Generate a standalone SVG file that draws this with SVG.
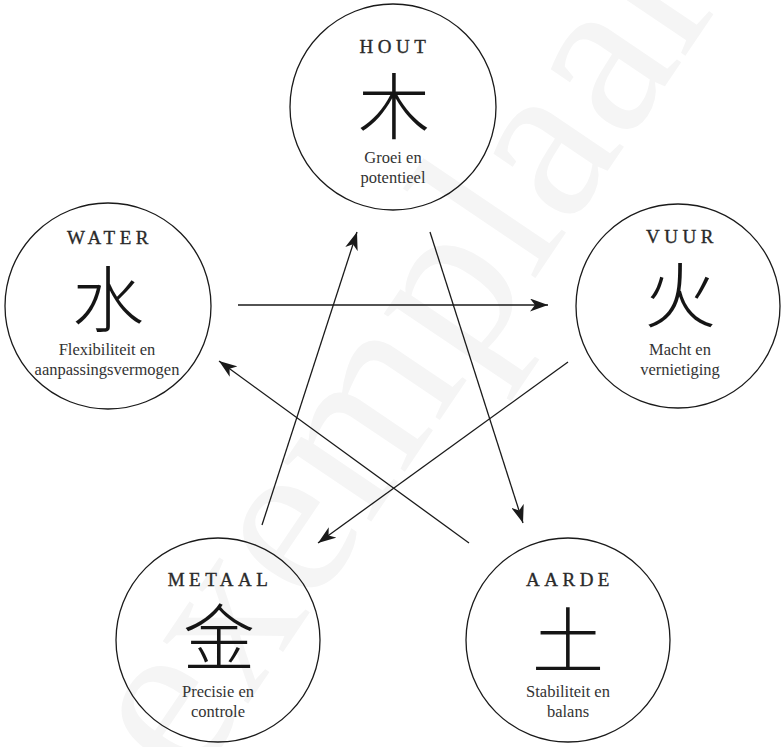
<svg xmlns="http://www.w3.org/2000/svg" width="782" height="747" viewBox="0 0 782 747">
<defs>
<style>
.bg{fill:#ffffff}
.wm{font-family:"Liberation Serif",serif;font-size:230px;fill:#f5f5f5}
.ring{fill:none;stroke:#1a1a1a;stroke-width:1.3}
.title{font-family:"Liberation Serif",serif;font-size:19px;letter-spacing:4.5px;fill:#2a2a2a;stroke:#2a2a2a;stroke-width:0.35;text-anchor:middle}
.han{font-family:"Noto Sans CJK SC","Noto Sans CJK JP",sans-serif;font-size:72px;font-weight:300;fill:#151515;text-anchor:middle;dominant-baseline:central}
.desc{font-family:"Liberation Serif",serif;font-size:16.5px;fill:#333333;text-anchor:middle}
.link{fill:none;stroke:#1a1a1a;stroke-width:1.3;marker-end:url(#ah)}
</style>
<marker id="ah" markerUnits="userSpaceOnUse" markerWidth="18" markerHeight="13" viewBox="0 0 18 13" refX="18" refY="6.5" orient="auto">
<path d="M0,0 L18,6.5 L0,13 L5,6.5 Z" fill="#1a1a1a"/>
</marker>
</defs>
<rect class="bg" x="0" y="0" width="782" height="747"/>
<text class="wm" transform="translate(190,790) rotate(-56)">exemplaar</text>

<g id="connectors">
<path class="link" d="M238,305 L548,305"/>
<path class="link" d="M430,232 L523,523"/>
<path class="link" d="M568,362 L318,543"/>
<path class="link" d="M469,543 L219,361"/>
<path class="link" d="M262,525 L357,232"/>
</g>

<g id="hout">
<circle class="ring" cx="393" cy="107" r="103"/>
<text class="title" x="395" y="53">HOUT</text>
<text class="han" x="394" y="101">木</text>
<text class="desc" x="393" y="163">Groei en</text>
<text class="desc" x="393" y="183">potentieel</text>
</g>

<g id="water">
<circle class="ring" cx="108" cy="306" r="103"/>
<text class="title" x="110" y="244">WATER</text>
<text class="han" x="108" y="294">水</text>
<text class="desc" x="107" y="355">Flexibiliteit en</text>
<text class="desc" x="107" y="375">aanpassingsvermogen</text>
</g>

<g id="vuur">
<circle class="ring" cx="678" cy="306" r="102"/>
<text class="title" x="682" y="243">VUUR</text>
<text class="han" x="680" y="290">火</text>
<text class="desc" x="680" y="355">Macht en</text>
<text class="desc" x="680" y="375">vernietiging</text>
</g>

<g id="metaal">
<circle class="ring" cx="218" cy="640" r="102"/>
<text class="title" x="220" y="586">METAAL</text>
<text class="han" x="219" y="632">金</text>
<text class="desc" x="218" y="697">Precisie en</text>
<text class="desc" x="218" y="717">controle</text>
</g>

<g id="aarde">
<circle class="ring" cx="568" cy="640" r="102"/>
<text class="title" x="570" y="586">AARDE</text>
<text class="han" x="568" y="635">土</text>
<text class="desc" x="568" y="697">Stabiliteit en</text>
<text class="desc" x="568" y="717">balans</text>
</g>
</svg>
